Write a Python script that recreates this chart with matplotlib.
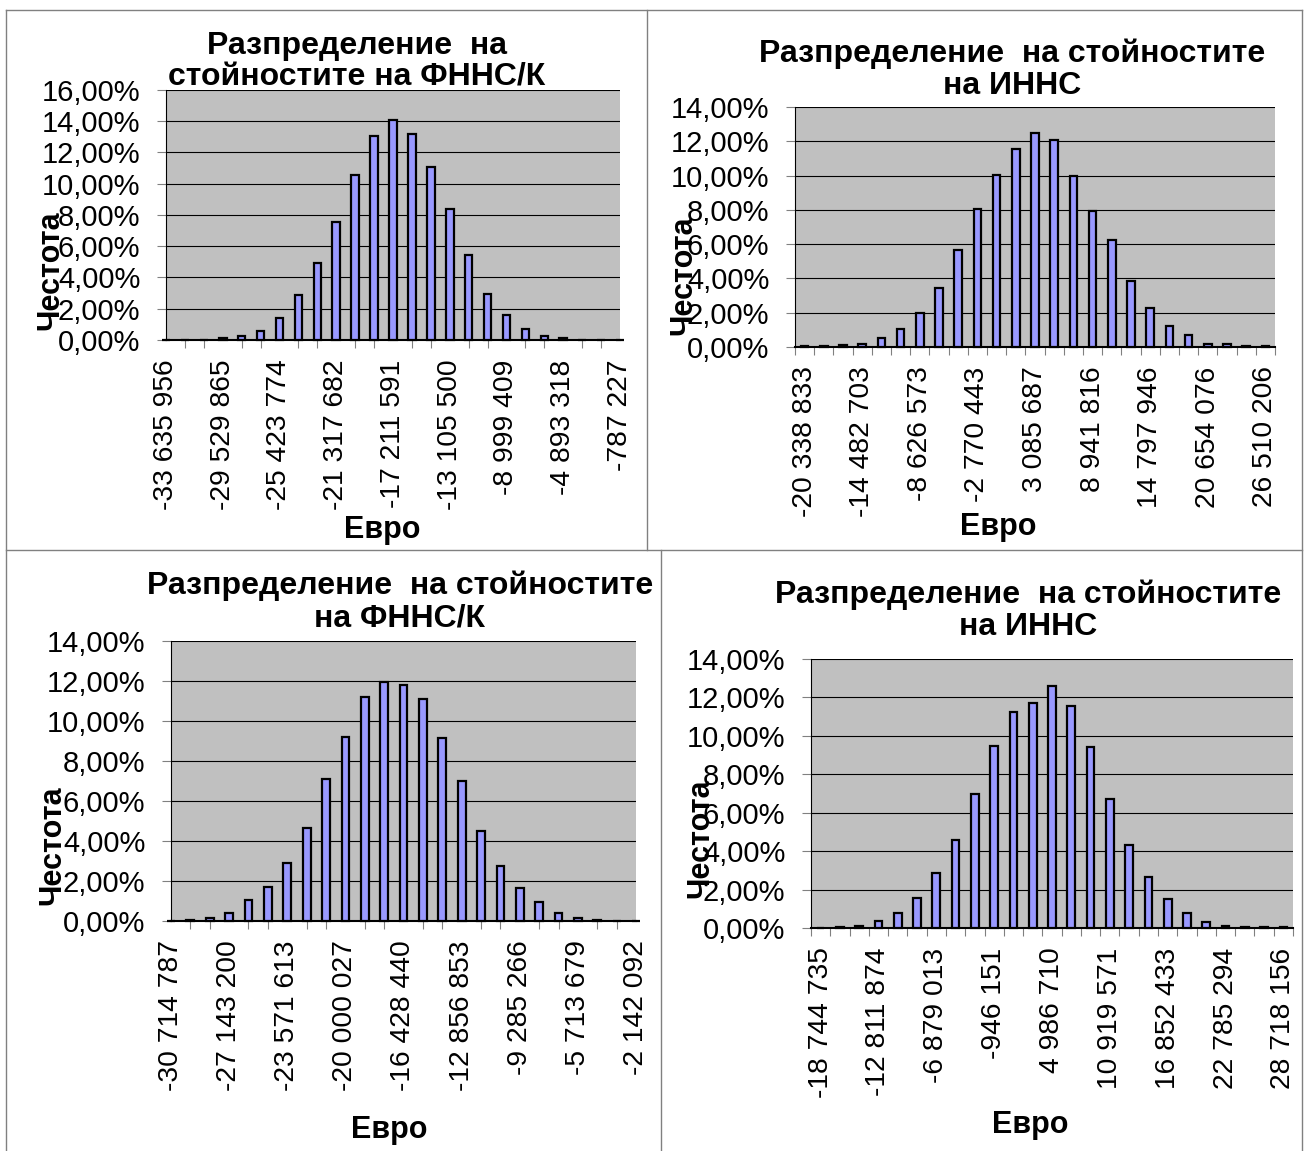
"""Four Excel-style histograms (ФННС/К and ИННС distributions) in a 2x2 table."""
import matplotlib
matplotlib.use("Agg")
import matplotlib.pyplot as plt
from matplotlib.lines import Line2D
from matplotlib.ticker import FixedLocator, FuncFormatter

plt.rcParams["font.family"] = ["Liberation Sans", "DejaVu Sans"]

# frequencies in %, 25 classes per chart
freq_fnns_1 = [0.02, 0.01, 0.01, 0.10, 0.25, 0.60, 1.40, 2.85, 4.90, 7.55, 10.55, 13.05, 14.10,
               13.20, 11.10, 8.40, 5.47, 2.95, 1.60, 0.70, 0.25, 0.10, 0.02, 0.00, 0.02]
freq_inns_1 = [0.05, 0.05, 0.10, 0.15, 0.50, 1.05, 2.00, 3.42, 5.66, 8.07, 10.04, 11.54, 12.50,
               12.06, 9.96, 7.96, 6.23, 3.87, 2.26, 1.23, 0.70, 0.20, 0.15, 0.05, 0.05]
freq_fnns_2 = [0.02, 0.05, 0.15, 0.38, 1.03, 1.68, 2.90, 4.64, 7.10, 9.18, 11.18, 11.93, 11.80,
               11.11, 9.13, 7.02, 4.48, 2.75, 1.66, 0.93, 0.38, 0.13, 0.05, 0.02, 0.02]
freq_inns_2 = [0.02, 0.05, 0.12, 0.36, 0.80, 1.56, 2.88, 4.58, 7.00, 9.46, 11.25, 11.70, 12.60,
               11.55, 9.43, 6.72, 4.32, 2.64, 1.53, 0.77, 0.32, 0.12, 0.05, 0.03, 0.03]

# category labels shown on the axis (every 3rd class)
labels_fnns_1 = ["-33 635 956", "-29 529 865", "-25 423 774", "-21 317 682", "-17 211 591",
                 "-13 105 500", "-8 999 409", "-4 893 318", "-787 227"]
labels_inns_1 = ["-20 338 833", "-14 482 703", "-8 626 573", "-2 770 443", "3 085 687",
                 "8 941 816", "14 797 946", "20 654 076", "26 510 206"]
labels_fnns_2 = ["-30 714 787", "-27 143 200", "-23 571 613", "-20 000 027", "-16 428 440",
                 "-12 856 853", "-9 285 266", "-5 713 679", "-2 142 092"]
labels_inns_2 = ["-18 744 735", "-12 811 874", "-6 879 013", "-946 151", "4 986 710",
                 "10 919 571", "16 852 433", "22 785 294", "28 718 156"]

titles = ["Разпределение  на\nстойностите на ФННС/К",
          "Разпределение  на стойностите\nна ИННС",
          "Разпределение  на стойностите\nна ФННС/К",
          "Разпределение  на стойностите\nна ИННС"]
ymax = [16, 14, 14, 14]

W, H = 1306, 1151
fig = plt.figure(figsize=(W / 100, H / 100), dpi=100)


def fx(x):
    return x / W


def fy(y):
    return 1 - y / H


# table borders
border = dict(color="#808080", lw=1.0)
for xs, ys in [((6, 1302), (10, 10)), ((6, 1302), (550, 550)), ((6, 6), (10, H)),
               ((647, 647), (10, 550)), ((661, 661), (550, H)), ((1302, 1302), (10, H))]:
    fig.add_artist(Line2D([fx(xs[0]), fx(xs[1])], [fy(ys[0]), fy(ys[1])],
                          transform=fig.transFigure, **border))

# plot-area boxes in pixels: left, top, right, bottom
boxes = [(166, 90, 620, 340), (795, 107, 1275, 347),
         (171, 641, 636, 921), (811, 659, 1293, 928)]
on_tick = [True, False, True, False]
title_pos = [(357, 62), (1012, 70), (400, 602), (1028, 611)]
xlabel_pos = [(382, 530), (998, 527), (389, 1130), (1030, 1125)]
ylabel_pos = [(50, 270), (683, 275), (52, 845), (700, 838)]

data = [freq_fnns_1, freq_inns_1, freq_fnns_2, freq_inns_2]
tick_labels = [labels_fnns_1, labels_inns_1, labels_fnns_2, labels_inns_2]

pct = FuncFormatter(lambda v, p: f"{v:.2f}%".replace(".", ","))

for i in range(4):
    l, t, r, b = boxes[i]
    ax = fig.add_axes([fx(l), fy(b), (r - l) / W, (b - t) / H])
    vals = data[i]
    n = len(vals)
    xs = list(range(n))
    ax.set_facecolor("#C0C0C0")
    # unclipped so that near-zero classes still show as black dashes on the axis
    ax.bar(xs, vals, width=0.4, color="#9999FF", edgecolor="black", lw=1.6, zorder=3,
           clip_on=False)
    if on_tick[i]:
        ax.set_xlim(0, n - 1)
        minor = xs
    else:
        ax.set_xlim(-0.5, n - 0.5)
        minor = [k - 0.5 for k in range(n + 1)]
    ax.set_ylim(0, ymax[i])
    ax.yaxis.set_major_locator(FixedLocator(list(range(0, ymax[i] + 1, 2))))
    ax.yaxis.set_major_formatter(pct)
    ax.grid(axis="y", color="black", lw=0.8, zorder=1)
    ax.set_axisbelow(True)
    ax.xaxis.set_major_locator(FixedLocator(xs[::3]))
    ax.set_xticklabels(tick_labels[i], rotation=90)
    ax.xaxis.set_minor_locator(FixedLocator(minor))
    ax.tick_params(axis="x", which="major", length=0, pad=14, labelsize=20.3)
    ax.tick_params(axis="x", which="minor", length=6, width=0.8, color="#808080")
    ax.tick_params(axis="y", length=6.5, width=0.8, color="#808080", pad=12, labelsize=21)
    for s in ("top", "right"):
        ax.spines[s].set_visible(False)
    ax.spines["left"].set_color("black")
    ax.spines["bottom"].set_color("black")
    ax.spines["bottom"].set_linewidth(1.5)

    tx, ty = title_pos[i]
    fig.text(fx(tx), fy(ty), titles[i], ha="center", va="center", fontsize=23,
             fontweight="bold", linespacing=1.08)
    lx, ly = xlabel_pos[i]
    fig.text(fx(lx), fy(ly), "Евро", ha="center", va="center", fontsize=22,
             fontweight="bold")
    yx, yy = ylabel_pos[i]
    fig.text(fx(yx), fy(yy), "Честота", ha="center", va="center", rotation=90,
             fontsize=22, fontweight="bold")

fig.savefig("out.png", dpi=100)
